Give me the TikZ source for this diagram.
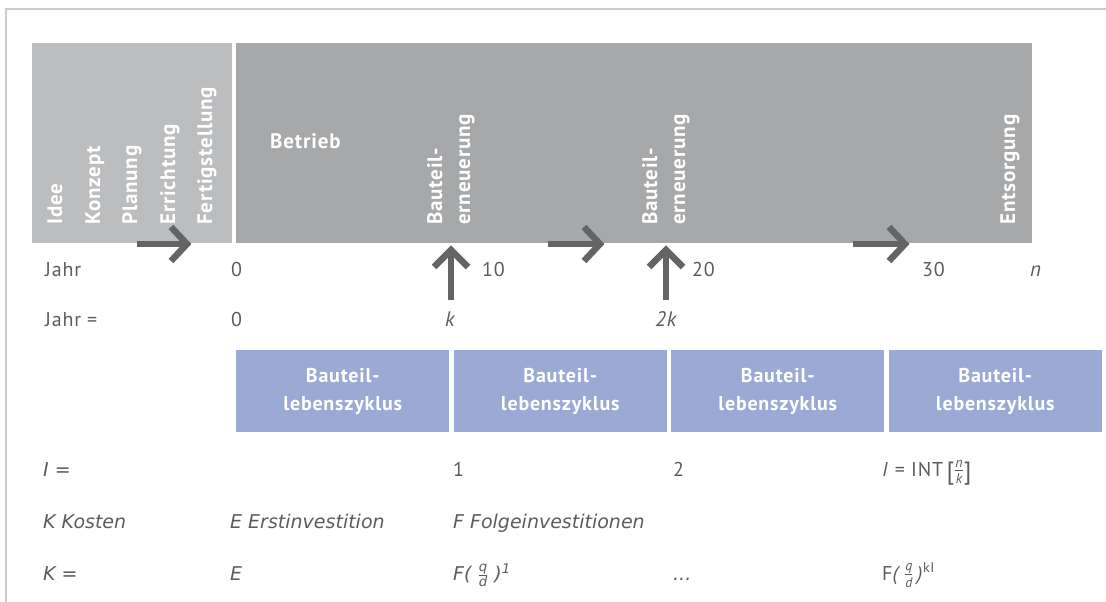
\documentclass[tikz,border=0pt]{standalone}
\usepackage{fontspec}
\usepackage{amsmath}
\setmainfont{PT Sans}[LetterSpace=4]
\newfontfamily\humfont{DejaVu Sans}
\definecolor{boxlight}{HTML}{BCBDBF}
\definecolor{boxdark}{HTML}{A7A8AA}
\definecolor{arrowgray}{HTML}{636466}
\definecolor{cycleblue}{HTML}{9AAAD4}
\definecolor{textgray}{HTML}{5B5C5E}
\definecolor{framegray}{HTML}{CCCCCC}
\newcommand{\bigbr}[1]{\raisebox{-3pt}{\fontsize{25}{25}\selectfont #1}}
\begin{document}
\begin{tikzpicture}[x=1pt,y=-1pt,
  vlabel/.style={rotate=90, anchor=base west, inner sep=0pt, text=white, font=\fontsize{21}{24}\selectfont\bfseries},
  hlabel/.style={anchor=base west, inner sep=0pt, text=white, font=\fontsize{21}{24}\selectfont\bfseries},
  yeartext/.style={anchor=base west, inner sep=0pt, text=textgray, font=\fontsize{20}{23}\selectfont},
  yearital/.style={anchor=base west, inner sep=0pt, text=textgray, font=\fontsize{21}{23}\selectfont\itshape},
  lowtext/.style={anchor=base west, inner sep=0pt, text=textgray, font=\humfont\fontsize{19}{22}\selectfont\itshape},
  cyclebox/.style={fill=cycleblue, minimum width=213pt, minimum height=82pt, anchor=north west, inner sep=0pt, text=white, align=center, font=\fontsize{20}{28}\selectfont\bfseries},
  bigarrow/.style={draw=arrowgray, line width=6.5pt},
  chevron/.style={draw=arrowgray, line width=6.5pt, miter limit=10}
]
\useasboundingbox (0,0) rectangle (1106,602);
% frame
\draw[framegray, line width=1.2pt] (6,602) -- (6,9) -- (1106,9);

% phase boxes
\fill[boxlight] (32,43) rectangle (232,243);
\fill[boxdark] (236,43) rectangle (1032,243);

% vertical labels in light box
\node[vlabel] (idee) at (62,225) {Idee};
\node[vlabel] (konzept) at (100,225) {Konzept};
\node[vlabel] (planung) at (137,225) {Planung};
\node[vlabel] (errichtung) at (175,225) {Errichtung};
\node[vlabel] (fertig) at (212,225) {Fertigstellung};

% dark box labels
\node[hlabel] (betrieb) at (270,148) {Betrieb};
\node[vlabel] (bt1a) at (442,225) {Bauteil-};
\node[vlabel] (bt1b) at (470,225) {erneuerung};
\node[vlabel] (bt2a) at (657,225) {Bauteil-};
\node[vlabel] (bt2b) at (685,225) {erneuerung};
\node[vlabel] (entsorgung) at (1015,225) {Entsorgung};

% horizontal arrows
\draw[bigarrow] (137,244) -- (186,244);
\draw[chevron] (171,227) -- (187,244) -- (171,261);
\draw[bigarrow] (548,244) -- (598,244);
\draw[chevron] (584,227) -- (600,244) -- (584,261);
\draw[bigarrow] (853,244) -- (903,244);
\draw[chevron] (889,227) -- (905,244) -- (889,261);

% vertical arrows
\draw[bigarrow] (451,300) -- (451,253);
\draw[chevron] (434,267) -- (451,250) -- (468,267);
\draw[bigarrow] (666,300) -- (666,253);
\draw[chevron] (649,267) -- (666,250) -- (683,267);

% year row
\node[yeartext] (jahr1) at (45,276) {Jahr};
\node[yeartext] (y0) at (231,276) {0};
\node[yeartext] (y10) at (482,276) {10};
\node[yeartext] (y20) at (692,276) {20};
\node[yeartext] (y30) at (922,276) {30};
\node[yearital] (yn) at (1030,276) {n};

\node[yeartext] (jahr2) at (45,326) {Jahr =};
\node[yeartext] (z0) at (231,326) {0};
\node[yearital] (zk) at (445,326) {k};
\node[yearital] (z2k) at (655,326) {2k};

% cycle boxes
\node[cyclebox] (c1) at (236,350) {Bauteil-\\lebenszyklus};
\node[cyclebox] (c2) at (453.5,350) {Bauteil-\\lebenszyklus};
\node[cyclebox] (c3) at (671,350) {Bauteil-\\lebenszyklus};
\node[cyclebox] (c4) at (888.5,350) {Bauteil-\\lebenszyklus};

% lower rows
\node[lowtext] (irow) at (43,476) {I =};
\node[yeartext] (i1) at (453,476) {1};
\node[yeartext] (i2) at (673,476) {2};
\node[yeartext] (iint) at (882,476) {\textit{I} = INT\,\bigbr{[}$\frac{\textit{n}}{\textit{k}}$\bigbr{]}};

\node[lowtext] (kk) at (43,528) {K Kosten};
\node[lowtext] (ee) at (230,528) {E Erstinvestition};
\node[lowtext] (ff) at (453,528) {F Folgeinvestitionen};

\node[lowtext] (keq) at (43,580) {K =};
\node[lowtext] (ke) at (230,580) {E};
\node[lowtext] (kf) at (453,580) {F( $\frac{\textit{q}}{\textit{d}}$ )\textsuperscript{1}};
\node[lowtext] (kdots) at (673,580) {...};
\node[yeartext] (kfi) at (882,580) {F\textit{(}\,$\frac{\textit{q}}{\textit{d}}$\,\textit{)}\textsuperscript{kI}};
\end{tikzpicture}
\end{document}
